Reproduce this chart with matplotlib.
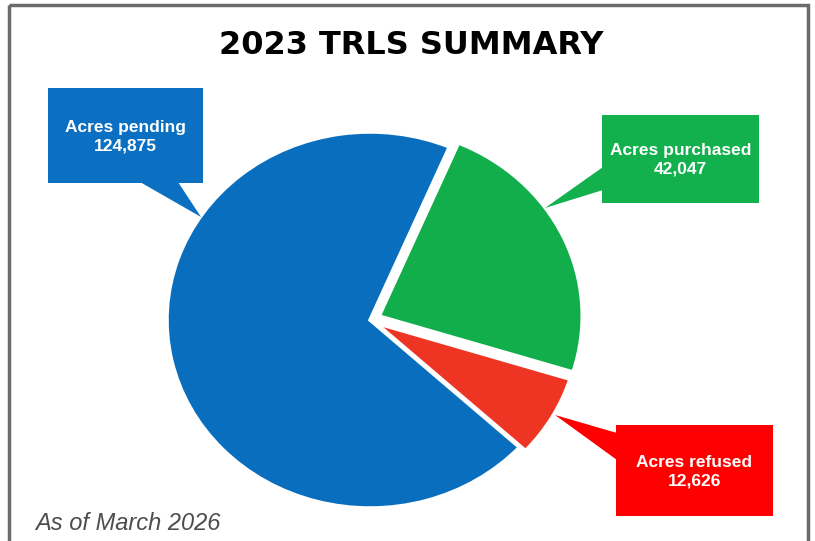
import matplotlib
matplotlib.use("Agg")
import matplotlib.pyplot as plt
from matplotlib.patches import Rectangle, Polygon

# ---- data ----
title = "2023 TRLS SUMMARY"
categories = ["Acres purchased", "Acres refused", "Acres pending"]
values = [42047, 12626, 124875]
slice_colors = ["#12ae4c", "#ee3524", "#0a6ebf"]
box_colors = ["#13b04e", "#ff0000", "#0b6fc2"]
note = "As of March 2026"

W, H = 815, 541
fig = plt.figure(figsize=(W / 100, H / 100), dpi=100)
fig.patch.set_facecolor("white")

# ---- pie (slightly elliptical as in the reference) ----
cx, cy = 370, 320          # centre, pixels from top-left
rx, ry = 203, 188          # radii in pixels
lim = 1.2
ax_p = fig.add_axes([(cx - lim * rx) / W, (H - cy - lim * ry) / H,
                     2 * lim * rx / W, 2 * lim * ry / H])
ax_p.pie(values, colors=slice_colors, startangle=67, counterclock=False,
         explode=[0.05, 0.035, 0.0], radius=1.0,
         wedgeprops=dict(edgecolor="white", linewidth=2.5))
ax_p.set_aspect("auto")
ax_p.set_xlim(-lim, lim)
ax_p.set_ylim(-lim, lim)
ax_p.axis("off")

# ---- overlay in pixel coordinates ----
ax = fig.add_axes([0, 0, 1, 1], zorder=5)
ax.set_xlim(0, W)
ax.set_ylim(H, 0)
ax.axis("off")
ax.patch.set_alpha(0)

# border
ax.add_patch(Rectangle((9, 5), 799, 560, fill=False, edgecolor="#6b6b6b",
                       linewidth=2.5))

# title
ax.text(411, 45, title, ha="center", va="center", fontsize=23,
        fontweight="bold", family="DejaVu Sans", color="black")

# callouts: box (x0, y0, x1, y1), tail polygon
boxes = [
    ((602, 115, 759, 203), [(603, 167), (603, 190), (545, 208)]),
    ((616, 425, 773, 516), [(617, 433), (617, 460), (555, 415)]),
    ((48, 88, 203, 183), [(140, 182), (178, 182), (201, 217)]),
]
for (b, tail), cat, val, col in zip(boxes, categories, values, box_colors):
    x0, y0, x1, y1 = b
    ax.add_patch(Polygon(tail, closed=True, facecolor=col, edgecolor="none"))
    ax.add_patch(Rectangle((x0, y0), x1 - x0, y1 - y0, facecolor=col,
                           edgecolor="none"))
    xm = (x0 + x1) / 2
    ym = (y0 + y1) / 2
    ax.text(xm, ym + 1, f"{cat}\n{val:,}", ha="center", va="center",
            color="white", fontsize=12.5, fontweight="bold",
            family=["Liberation Sans", "DejaVu Sans"], linespacing=1.3)

# note
ax.text(35, 530, note, ha="left", va="baseline", fontsize=17,
        fontstyle="italic", color="#4d4d4d",
        family=["Liberation Sans", "DejaVu Sans"])

fig.savefig("out.png", dpi=100)
